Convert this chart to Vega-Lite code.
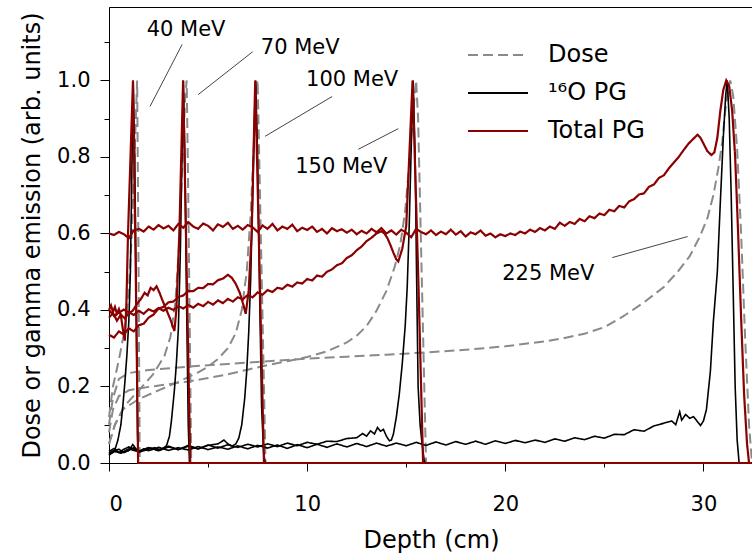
{
  "$schema": "https://vega.github.io/schema/vega-lite/v6.json",
  "width": 644,
  "height": 456,
  "autosize": {"type": "none"},
  "padding": {"left": 109, "top": 7, "right": 0, "bottom": 94},
  "background": "white",
  "config": {
    "view": {"stroke": "black", "strokeWidth": 1},
    "font": "DejaVu Sans",
    "axis": {
      "grid": false,
      "labelFont": "DejaVu Sans",
      "labelFontSize": 21,
      "labelColor": "black",
      "titleFont": "DejaVu Sans",
      "titleFontSize": 24,
      "titleFontWeight": "normal",
      "titleColor": "black",
      "domainColor": "black",
      "tickColor": "black",
      "domainWidth": 1,
      "tickWidth": 1
    },
    "legend": {
      "orient": "none",
      "legendX": 377,
      "legendY": 36,
      "symbolType": "M-6,0H6",
      "symbolSize": 100,
      "symbolStrokeWidth": 2,
      "labelFont": "DejaVu Sans",
      "labelFontSize": 24,
      "labelColor": "black",
      "labelOffset": 38,
      "rowPadding": 14,
      "title": null
    }
  },
  "datasets": {
    "dose": [
      {"e":"40","d":0,"v":0.12},{"e":"40","d":0.2,"v":0.2},{"e":"40","d":0.5,"v":0.27},{"e":"40","d":0.8,"v":0.35},{"e":"40","d":1.0,"v":0.45},{"e":"40","d":1.15,"v":0.6},{"e":"40","d":1.3,"v":0.82},{"e":"40","d":1.42,"v":1.0},{"e":"40","d":1.48,"v":0.6},{"e":"40","d":1.55,"v":0},
      {"e":"70","d":0,"v":0.05},{"e":"70","d":0.3,"v":0.1},{"e":"70","d":0.8,"v":0.15},{"e":"70","d":1.5,"v":0.19},{"e":"70","d":2.2,"v":0.23},{"e":"70","d":2.8,"v":0.28},{"e":"70","d":3.1,"v":0.33},{"e":"70","d":3.35,"v":0.42},{"e":"70","d":3.55,"v":0.58},{"e":"70","d":3.7,"v":0.78},{"e":"70","d":3.85,"v":0.96},{"e":"70","d":3.92,"v":1.0},{"e":"70","d":4.0,"v":0.7},{"e":"70","d":4.15,"v":0},
      {"e":"100","d":0,"v":0.05},{"e":"100","d":0.3,"v":0.1},{"e":"100","d":0.7,"v":0.14},{"e":"100","d":1.5,"v":0.167},{"e":"100","d":2.5,"v":0.19},{"e":"100","d":3.5,"v":0.212},{"e":"100","d":4.5,"v":0.237},{"e":"100","d":5,"v":0.252},{"e":"100","d":5.5,"v":0.272},{"e":"100","d":6,"v":0.3},{"e":"100","d":6.4,"v":0.34},{"e":"100","d":6.7,"v":0.4},{"e":"100","d":6.95,"v":0.5},{"e":"100","d":7.15,"v":0.65},{"e":"100","d":7.3,"v":0.82},{"e":"100","d":7.42,"v":0.96},{"e":"100","d":7.5,"v":1.0},{"e":"100","d":7.6,"v":0.75},{"e":"100","d":7.9,"v":0},
      {"e":"150","d":0,"v":0.08},{"e":"150","d":0.2,"v":0.14},{"e":"150","d":0.5,"v":0.175},{"e":"150","d":1,"v":0.19},{"e":"150","d":2,"v":0.199},{"e":"150","d":3,"v":0.206},{"e":"150","d":4,"v":0.213},{"e":"150","d":5,"v":0.222},{"e":"150","d":6,"v":0.232},{"e":"150","d":7,"v":0.244},{"e":"150","d":8,"v":0.256},{"e":"150","d":9,"v":0.266},{"e":"150","d":10,"v":0.277},{"e":"150","d":11,"v":0.292},{"e":"150","d":12,"v":0.315},{"e":"150","d":12.5,"v":0.333},{"e":"150","d":13,"v":0.358},{"e":"150","d":13.5,"v":0.398},{"e":"150","d":14,"v":0.45},{"e":"150","d":14.4,"v":0.51},{"e":"150","d":14.7,"v":0.57},{"e":"150","d":14.95,"v":0.66},{"e":"150","d":15.15,"v":0.78},{"e":"150","d":15.35,"v":0.92},{"e":"150","d":15.5,"v":1.0},{"e":"150","d":15.6,"v":0.9},{"e":"150","d":15.8,"v":0.45},{"e":"150","d":16.0,"v":0},
      {"e":"225","d":0,"v":0.1},{"e":"225","d":0.2,"v":0.17},{"e":"225","d":0.5,"v":0.22},{"e":"225","d":1,"v":0.235},{"e":"225","d":2,"v":0.243},{"e":"225","d":4,"v":0.252},{"e":"225","d":6,"v":0.259},{"e":"225","d":8,"v":0.266},{"e":"225","d":10,"v":0.273},{"e":"225","d":12,"v":0.278},{"e":"225","d":14,"v":0.283},{"e":"225","d":16,"v":0.289},{"e":"225","d":18,"v":0.296},{"e":"225","d":20,"v":0.305},{"e":"225","d":22,"v":0.318},{"e":"225","d":23,"v":0.327},{"e":"225","d":24,"v":0.338},{"e":"225","d":25,"v":0.355},{"e":"225","d":26,"v":0.385},{"e":"225","d":27,"v":0.42},{"e":"225","d":28,"v":0.46},{"e":"225","d":28.7,"v":0.5},{"e":"225","d":29.3,"v":0.54},{"e":"225","d":29.8,"v":0.59},{"e":"225","d":30.2,"v":0.64},{"e":"225","d":30.5,"v":0.7},{"e":"225","d":30.75,"v":0.77},{"e":"225","d":30.95,"v":0.84},{"e":"225","d":31.1,"v":0.92},{"e":"225","d":31.25,"v":0.98},{"e":"225","d":31.35,"v":1.0},{"e":"225","d":31.5,"v":0.96},{"e":"225","d":31.7,"v":0.82},{"e":"225","d":31.9,"v":0.6},{"e":"225","d":32.1,"v":0.33},{"e":"225","d":32.3,"v":0.1},{"e":"225","d":32.45,"v":0}
    ],
    "o16": [
      {"e":"40","d":0,"v":0.02},{"e":"40","d":0.15,"v":0.028},{"e":"40","d":0.3,"v":0.035},{"e":"40","d":0.45,"v":0.06},{"e":"40","d":0.6,"v":0.1},{"e":"40","d":0.7,"v":0.15},{"e":"40","d":0.8,"v":0.21},{"e":"40","d":0.9,"v":0.28},{"e":"40","d":1.0,"v":0.37},{"e":"40","d":1.08,"v":0.5},{"e":"40","d":1.15,"v":0.75},{"e":"40","d":1.22,"v":1.0},{"e":"40","d":1.3,"v":0.8},{"e":"40","d":1.38,"v":0.4},{"e":"40","d":1.44,"v":0.08},{"e":"40","d":1.48,"v":0},{"e":"40","d":32.5,"v":0},
      {"e":"70","d":0,"v":0.022},{"e":"70","d":0.3,"v":0.03},{"e":"70","d":0.6,"v":0.026},{"e":"70","d":1,"v":0.033},{"e":"70","d":1.2,"v":0.048},{"e":"70","d":1.5,"v":0.028},{"e":"70","d":2,"v":0.036},{"e":"70","d":2.3,"v":0.04},{"e":"70","d":2.6,"v":0.034},{"e":"70","d":2.9,"v":0.045},{"e":"70","d":3.05,"v":0.07},{"e":"70","d":3.15,"v":0.11},{"e":"70","d":3.3,"v":0.19},{"e":"70","d":3.4,"v":0.26},{"e":"70","d":3.5,"v":0.35},{"e":"70","d":3.6,"v":0.55},{"e":"70","d":3.7,"v":0.85},{"e":"70","d":3.75,"v":1.0},{"e":"70","d":3.83,"v":0.8},{"e":"70","d":3.92,"v":0.4},{"e":"70","d":4.0,"v":0.1},{"e":"70","d":4.06,"v":0},{"e":"70","d":32.5,"v":0},
      {"e":"100","d":0,"v":0.025},{"e":"100","d":0.3,"v":0.034},{"e":"100","d":0.6,"v":0.026},{"e":"100","d":1,"v":0.037},{"e":"100","d":1.5,"v":0.029},{"e":"100","d":2,"v":0.04},{"e":"100","d":2.5,"v":0.032},{"e":"100","d":3,"v":0.042},{"e":"100","d":3.5,"v":0.035},{"e":"100","d":4,"v":0.044},{"e":"100","d":4.5,"v":0.037},{"e":"100","d":5,"v":0.046},{"e":"100","d":5.5,"v":0.05},{"e":"100","d":5.8,"v":0.06},{"e":"100","d":6.0,"v":0.05},{"e":"100","d":6.2,"v":0.044},{"e":"100","d":6.4,"v":0.05},{"e":"100","d":6.55,"v":0.065},{"e":"100","d":6.7,"v":0.1},{"e":"100","d":6.85,"v":0.17},{"e":"100","d":6.95,"v":0.24},{"e":"100","d":7.05,"v":0.34},{"e":"100","d":7.15,"v":0.48},{"e":"100","d":7.25,"v":0.7},{"e":"100","d":7.35,"v":0.92},{"e":"100","d":7.4,"v":1.0},{"e":"100","d":7.5,"v":0.8},{"e":"100","d":7.6,"v":0.45},{"e":"100","d":7.7,"v":0.15},{"e":"100","d":7.8,"v":0.03},{"e":"100","d":7.88,"v":0},{"e":"100","d":32.5,"v":0},
      {"e":"150","d":0,"v":0.03},{"e":"150","d":0.25,"v":0.038},{"e":"150","d":0.5,"v":0.027},{"e":"150","d":0.75,"v":0.036},{"e":"150","d":1,"v":0.042},{"e":"150","d":1.5,"v":0.031},{"e":"150","d":2,"v":0.04},{"e":"150","d":2.5,"v":0.034},{"e":"150","d":3,"v":0.044},{"e":"150","d":3.5,"v":0.035},{"e":"150","d":4,"v":0.046},{"e":"150","d":4.5,"v":0.037},{"e":"150","d":5,"v":0.047},{"e":"150","d":5.5,"v":0.039},{"e":"150","d":6,"v":0.048},{"e":"150","d":6.5,"v":0.041},{"e":"150","d":7,"v":0.049},{"e":"150","d":7.5,"v":0.042},{"e":"150","d":8,"v":0.05},{"e":"150","d":8.5,"v":0.043},{"e":"150","d":9,"v":0.052},{"e":"150","d":9.5,"v":0.045},{"e":"150","d":10,"v":0.054},{"e":"150","d":10.5,"v":0.049},{"e":"150","d":11,"v":0.057},{"e":"150","d":11.5,"v":0.056},{"e":"150","d":12,"v":0.064},{"e":"150","d":12.5,"v":0.066},{"e":"150","d":12.8,"v":0.077},{"e":"150","d":13.0,"v":0.07},{"e":"150","d":13.2,"v":0.084},{"e":"150","d":13.4,"v":0.076},{"e":"150","d":13.55,"v":0.093},{"e":"150","d":13.7,"v":0.083},{"e":"150","d":13.85,"v":0.088},{"e":"150","d":14.0,"v":0.07},{"e":"150","d":14.15,"v":0.058},{"e":"150","d":14.25,"v":0.06},{"e":"150","d":14.35,"v":0.075},{"e":"150","d":14.5,"v":0.12},{"e":"150","d":14.65,"v":0.18},{"e":"150","d":14.8,"v":0.26},{"e":"150","d":14.95,"v":0.36},{"e":"150","d":15.05,"v":0.46},{"e":"150","d":15.15,"v":0.62},{"e":"150","d":15.25,"v":0.82},{"e":"150","d":15.35,"v":1.0},{"e":"150","d":15.45,"v":0.8},{"e":"150","d":15.52,"v":0.5},{"e":"150","d":15.6,"v":0.2},{"e":"150","d":15.7,"v":0.1},{"e":"150","d":15.8,"v":0.05},{"e":"150","d":15.9,"v":0.01},{"e":"150","d":15.95,"v":0},{"e":"150","d":32.5,"v":0},
      {"e":"225","d":0,"v":0.025},{"e":"225","d":0.25,"v":0.032},{"e":"225","d":0.5,"v":0.036},{"e":"225","d":0.75,"v":0.027},{"e":"225","d":1,"v":0.033},{"e":"225","d":1.25,"v":0.04},{"e":"225","d":1.5,"v":0.029},{"e":"225","d":1.75,"v":0.037},{"e":"225","d":2,"v":0.032},{"e":"225","d":2.5,"v":0.041},{"e":"225","d":3,"v":0.033},{"e":"225","d":3.5,"v":0.04},{"e":"225","d":4,"v":0.034},{"e":"225","d":4.5,"v":0.043},{"e":"225","d":5,"v":0.035},{"e":"225","d":5.5,"v":0.042},{"e":"225","d":6,"v":0.036},{"e":"225","d":6.5,"v":0.045},{"e":"225","d":7,"v":0.037},{"e":"225","d":7.5,"v":0.046},{"e":"225","d":8,"v":0.039},{"e":"225","d":8.5,"v":0.047},{"e":"225","d":9,"v":0.038},{"e":"225","d":9.5,"v":0.048},{"e":"225","d":10,"v":0.04},{"e":"225","d":10.5,"v":0.049},{"e":"225","d":11,"v":0.041},{"e":"225","d":11.5,"v":0.05},{"e":"225","d":12,"v":0.042},{"e":"225","d":12.5,"v":0.051},{"e":"225","d":13,"v":0.043},{"e":"225","d":13.5,"v":0.052},{"e":"225","d":14,"v":0.044},{"e":"225","d":14.5,"v":0.052},{"e":"225","d":15,"v":0.045},{"e":"225","d":15.5,"v":0.054},{"e":"225","d":16,"v":0.046},{"e":"225","d":16.5,"v":0.055},{"e":"225","d":17,"v":0.047},{"e":"225","d":17.5,"v":0.056},{"e":"225","d":18,"v":0.049},{"e":"225","d":18.5,"v":0.057},{"e":"225","d":19,"v":0.049},{"e":"225","d":19.5,"v":0.058},{"e":"225","d":20,"v":0.051},{"e":"225","d":20.5,"v":0.059},{"e":"225","d":21,"v":0.053},{"e":"225","d":21.5,"v":0.06},{"e":"225","d":22,"v":0.054},{"e":"225","d":22.5,"v":0.063},{"e":"225","d":23,"v":0.057},{"e":"225","d":23.5,"v":0.066},{"e":"225","d":24,"v":0.061},{"e":"225","d":24.5,"v":0.07},{"e":"225","d":25,"v":0.065},{"e":"225","d":25.5,"v":0.075},{"e":"225","d":26,"v":0.074},{"e":"225","d":26.5,"v":0.087},{"e":"225","d":27,"v":0.083},{"e":"225","d":27.5,"v":0.097},{"e":"225","d":28,"v":0.104},{"e":"225","d":28.4,"v":0.11},{"e":"225","d":28.6,"v":0.1},{"e":"225","d":28.8,"v":0.134},{"e":"225","d":28.9,"v":0.112},{"e":"225","d":29.1,"v":0.127},{"e":"225","d":29.3,"v":0.117},{"e":"225","d":29.5,"v":0.121},{"e":"225","d":29.7,"v":0.108},{"e":"225","d":29.85,"v":0.098},{"e":"225","d":30.0,"v":0.11},{"e":"225","d":30.15,"v":0.14},{"e":"225","d":30.35,"v":0.24},{"e":"225","d":30.5,"v":0.37},{"e":"225","d":30.7,"v":0.5},{"e":"225","d":30.85,"v":0.68},{"e":"225","d":31.0,"v":0.85},{"e":"225","d":31.12,"v":0.96},{"e":"225","d":31.2,"v":1.0},{"e":"225","d":31.3,"v":0.9},{"e":"225","d":31.4,"v":0.7},{"e":"225","d":31.5,"v":0.45},{"e":"225","d":31.6,"v":0.2},{"e":"225","d":31.7,"v":0.06},{"e":"225","d":31.8,"v":0},{"e":"225","d":32.5,"v":0}
    ],
    "total": [
      {"e":"40","d":0,"v":0.4},{"e":"40","d":0.1,"v":0.412},{"e":"40","d":0.2,"v":0.395},{"e":"40","d":0.3,"v":0.408},{"e":"40","d":0.4,"v":0.39},{"e":"40","d":0.5,"v":0.402},{"e":"40","d":0.6,"v":0.385},{"e":"40","d":0.7,"v":0.35},{"e":"40","d":0.8,"v":0.32},{"e":"40","d":0.88,"v":0.42},{"e":"40","d":0.96,"v":0.6},{"e":"40","d":1.21,"v":1.0},{"e":"40","d":1.35,"v":0.5},{"e":"40","d":1.47,"v":0},{"e":"40","d":32.5,"v":0},
      {"e":"70","d":0,"v":0.38},{"e":"70","d":0.2,"v":0.392},{"e":"70","d":0.4,"v":0.372},{"e":"70","d":0.6,"v":0.388},{"e":"70","d":0.8,"v":0.378},{"e":"70","d":1.0,"v":0.392},{"e":"70","d":1.2,"v":0.398},{"e":"70","d":1.4,"v":0.415},{"e":"70","d":1.6,"v":0.428},{"e":"70","d":1.8,"v":0.445},{"e":"70","d":1.95,"v":0.438},{"e":"70","d":2.1,"v":0.458},{"e":"70","d":2.25,"v":0.452},{"e":"70","d":2.4,"v":0.462},{"e":"70","d":2.55,"v":0.445},{"e":"70","d":2.7,"v":0.425},{"e":"70","d":2.9,"v":0.4},{"e":"70","d":3.1,"v":0.375},{"e":"70","d":3.3,"v":0.345},{"e":"70","d":3.4,"v":0.4},{"e":"70","d":3.55,"v":0.6},{"e":"70","d":3.74,"v":1.0},{"e":"70","d":3.92,"v":0.5},{"e":"70","d":4.1,"v":0},{"e":"70","d":32.5,"v":0},
      {"e":"100","d":0,"v":0.335},{"e":"100","d":0.25,"v":0.328},{"e":"100","d":0.5,"v":0.344},{"e":"100","d":0.75,"v":0.336},{"e":"100","d":1.0,"v":0.352},{"e":"100","d":1.25,"v":0.344},{"e":"100","d":1.5,"v":0.36},{"e":"100","d":1.75,"v":0.364},{"e":"100","d":2.0,"v":0.38},{"e":"100","d":2.25,"v":0.388},{"e":"100","d":2.5,"v":0.404},{"e":"100","d":2.75,"v":0.408},{"e":"100","d":3.0,"v":0.42},{"e":"100","d":3.25,"v":0.422},{"e":"100","d":3.5,"v":0.434},{"e":"100","d":3.75,"v":0.438},{"e":"100","d":4.0,"v":0.45},{"e":"100","d":4.25,"v":0.449},{"e":"100","d":4.5,"v":0.458},{"e":"100","d":4.75,"v":0.457},{"e":"100","d":5.0,"v":0.468},{"e":"100","d":5.25,"v":0.467},{"e":"100","d":5.5,"v":0.478},{"e":"100","d":5.75,"v":0.482},{"e":"100","d":6.0,"v":0.492},{"e":"100","d":6.2,"v":0.484},{"e":"100","d":6.4,"v":0.468},{"e":"100","d":6.6,"v":0.445},{"e":"100","d":6.8,"v":0.41},{"e":"100","d":6.9,"v":0.39},{"e":"100","d":7.05,"v":0.45},{"e":"100","d":7.2,"v":0.6},{"e":"100","d":7.38,"v":1.0},{"e":"100","d":7.6,"v":0.5},{"e":"100","d":7.82,"v":0},{"e":"100","d":32.5,"v":0},
      {"e":"150","d":0,"v":0.4},{"e":"150","d":0.25,"v":0.385},{"e":"150","d":0.5,"v":0.393},{"e":"150","d":0.75,"v":0.401},{"e":"150","d":1.0,"v":0.394},{"e":"150","d":1.25,"v":0.387},{"e":"150","d":1.5,"v":0.398},{"e":"150","d":1.75,"v":0.39},{"e":"150","d":2.0,"v":0.402},{"e":"150","d":2.25,"v":0.396},{"e":"150","d":2.5,"v":0.405},{"e":"150","d":2.75,"v":0.398},{"e":"150","d":3.0,"v":0.406},{"e":"150","d":3.25,"v":0.4},{"e":"150","d":3.5,"v":0.41},{"e":"150","d":3.75,"v":0.404},{"e":"150","d":4.0,"v":0.413},{"e":"150","d":4.25,"v":0.406},{"e":"150","d":4.5,"v":0.416},{"e":"150","d":4.75,"v":0.41},{"e":"150","d":5.0,"v":0.421},{"e":"150","d":5.25,"v":0.414},{"e":"150","d":5.5,"v":0.425},{"e":"150","d":5.75,"v":0.418},{"e":"150","d":6.0,"v":0.429},{"e":"150","d":6.25,"v":0.422},{"e":"150","d":6.5,"v":0.433},{"e":"150","d":6.75,"v":0.428},{"e":"150","d":7.0,"v":0.439},{"e":"150","d":7.25,"v":0.433},{"e":"150","d":7.5,"v":0.446},{"e":"150","d":7.75,"v":0.44},{"e":"150","d":8.0,"v":0.452},{"e":"150","d":8.25,"v":0.447},{"e":"150","d":8.5,"v":0.458},{"e":"150","d":8.75,"v":0.455},{"e":"150","d":9.0,"v":0.466},{"e":"150","d":9.25,"v":0.461},{"e":"150","d":9.5,"v":0.472},{"e":"150","d":9.75,"v":0.469},{"e":"150","d":10.0,"v":0.481},{"e":"150","d":10.25,"v":0.477},{"e":"150","d":10.5,"v":0.49},{"e":"150","d":10.75,"v":0.487},{"e":"150","d":11.0,"v":0.5},{"e":"150","d":11.25,"v":0.506},{"e":"150","d":11.5,"v":0.517},{"e":"150","d":11.75,"v":0.522},{"e":"150","d":12.0,"v":0.536},{"e":"150","d":12.25,"v":0.543},{"e":"150","d":12.5,"v":0.556},{"e":"150","d":12.75,"v":0.566},{"e":"150","d":13.0,"v":0.58},{"e":"150","d":13.25,"v":0.589},{"e":"150","d":13.5,"v":0.6},{"e":"150","d":13.75,"v":0.606},{"e":"150","d":13.9,"v":0.6},{"e":"150","d":14.05,"v":0.588},{"e":"150","d":14.2,"v":0.57},{"e":"150","d":14.35,"v":0.55},{"e":"150","d":14.5,"v":0.532},{"e":"150","d":14.6,"v":0.527},{"e":"150","d":14.8,"v":0.56},{"e":"150","d":15.0,"v":0.62},{"e":"150","d":15.32,"v":1.0},{"e":"150","d":15.6,"v":0.5},{"e":"150","d":15.85,"v":0},{"e":"150","d":32.5,"v":0},
      {"e":"225","d":0,"v":0.6},{"e":"225","d":0.25,"v":0.596},{"e":"225","d":0.5,"v":0.604},{"e":"225","d":0.75,"v":0.598},{"e":"225","d":1.0,"v":0.588},{"e":"225","d":1.25,"v":0.608},{"e":"225","d":1.5,"v":0.612},{"e":"225","d":1.75,"v":0.605},{"e":"225","d":2.0,"v":0.618},{"e":"225","d":2.25,"v":0.61},{"e":"225","d":2.5,"v":0.622},{"e":"225","d":2.75,"v":0.613},{"e":"225","d":3.0,"v":0.62},{"e":"225","d":3.25,"v":0.608},{"e":"225","d":3.5,"v":0.625},{"e":"225","d":3.75,"v":0.615},{"e":"225","d":4.0,"v":0.63},{"e":"225","d":4.25,"v":0.618},{"e":"225","d":4.5,"v":0.612},{"e":"225","d":4.75,"v":0.626},{"e":"225","d":5.0,"v":0.62},{"e":"225","d":5.25,"v":0.608},{"e":"225","d":5.5,"v":0.624},{"e":"225","d":5.75,"v":0.617},{"e":"225","d":6.0,"v":0.628},{"e":"225","d":6.25,"v":0.612},{"e":"225","d":6.5,"v":0.62},{"e":"225","d":6.75,"v":0.61},{"e":"225","d":7.0,"v":0.622},{"e":"225","d":7.25,"v":0.616},{"e":"225","d":7.5,"v":0.604},{"e":"225","d":7.75,"v":0.621},{"e":"225","d":8.0,"v":0.612},{"e":"225","d":8.25,"v":0.625},{"e":"225","d":8.5,"v":0.608},{"e":"225","d":8.75,"v":0.618},{"e":"225","d":9.0,"v":0.612},{"e":"225","d":9.25,"v":0.623},{"e":"225","d":9.5,"v":0.606},{"e":"225","d":9.75,"v":0.615},{"e":"225","d":10.0,"v":0.609},{"e":"225","d":10.25,"v":0.618},{"e":"225","d":10.5,"v":0.604},{"e":"225","d":10.75,"v":0.612},{"e":"225","d":11.0,"v":0.6},{"e":"225","d":11.25,"v":0.614},{"e":"225","d":11.5,"v":0.606},{"e":"225","d":11.75,"v":0.611},{"e":"225","d":12.0,"v":0.602},{"e":"225","d":12.25,"v":0.61},{"e":"225","d":12.5,"v":0.598},{"e":"225","d":12.75,"v":0.607},{"e":"225","d":13.0,"v":0.6},{"e":"225","d":13.25,"v":0.612},{"e":"225","d":13.5,"v":0.603},{"e":"225","d":13.75,"v":0.614},{"e":"225","d":14.0,"v":0.6},{"e":"225","d":14.25,"v":0.608},{"e":"225","d":14.5,"v":0.597},{"e":"225","d":14.75,"v":0.61},{"e":"225","d":15.0,"v":0.602},{"e":"225","d":15.25,"v":0.59},{"e":"225","d":15.5,"v":0.612},{"e":"225","d":15.75,"v":0.604},{"e":"225","d":16.0,"v":0.598},{"e":"225","d":16.25,"v":0.608},{"e":"225","d":16.5,"v":0.596},{"e":"225","d":16.75,"v":0.605},{"e":"225","d":17.0,"v":0.598},{"e":"225","d":17.25,"v":0.61},{"e":"225","d":17.5,"v":0.597},{"e":"225","d":17.75,"v":0.606},{"e":"225","d":18.0,"v":0.592},{"e":"225","d":18.25,"v":0.603},{"e":"225","d":18.5,"v":0.598},{"e":"225","d":18.75,"v":0.608},{"e":"225","d":19.0,"v":0.594},{"e":"225","d":19.25,"v":0.6},{"e":"225","d":19.5,"v":0.59},{"e":"225","d":19.75,"v":0.598},{"e":"225","d":20.0,"v":0.593},{"e":"225","d":20.25,"v":0.6},{"e":"225","d":20.5,"v":0.596},{"e":"225","d":20.75,"v":0.605},{"e":"225","d":21.0,"v":0.6},{"e":"225","d":21.25,"v":0.61},{"e":"225","d":21.5,"v":0.604},{"e":"225","d":21.75,"v":0.614},{"e":"225","d":22.0,"v":0.608},{"e":"225","d":22.25,"v":0.618},{"e":"225","d":22.5,"v":0.612},{"e":"225","d":22.75,"v":0.628},{"e":"225","d":23.0,"v":0.62},{"e":"225","d":23.25,"v":0.63},{"e":"225","d":23.5,"v":0.625},{"e":"225","d":23.75,"v":0.638},{"e":"225","d":24.0,"v":0.632},{"e":"225","d":24.25,"v":0.645},{"e":"225","d":24.5,"v":0.64},{"e":"225","d":24.75,"v":0.652},{"e":"225","d":25.0,"v":0.648},{"e":"225","d":25.25,"v":0.662},{"e":"225","d":25.5,"v":0.658},{"e":"225","d":25.75,"v":0.672},{"e":"225","d":26.0,"v":0.668},{"e":"225","d":26.25,"v":0.684},{"e":"225","d":26.5,"v":0.69},{"e":"225","d":26.75,"v":0.702},{"e":"225","d":27.0,"v":0.705},{"e":"225","d":27.25,"v":0.722},{"e":"225","d":27.5,"v":0.728},{"e":"225","d":27.75,"v":0.745},{"e":"225","d":28.0,"v":0.752},{"e":"225","d":28.25,"v":0.77},{"e":"225","d":28.5,"v":0.785},{"e":"225","d":28.75,"v":0.8},{"e":"225","d":29.0,"v":0.818},{"e":"225","d":29.25,"v":0.835},{"e":"225","d":29.5,"v":0.848},{"e":"225","d":29.7,"v":0.858},{"e":"225","d":29.85,"v":0.85},{"e":"225","d":30.0,"v":0.835},{"e":"225","d":30.2,"v":0.815},{"e":"225","d":30.4,"v":0.805},{"e":"225","d":30.55,"v":0.812},{"e":"225","d":30.7,"v":0.85},{"e":"225","d":30.85,"v":0.92},{"e":"225","d":31.0,"v":0.975},{"e":"225","d":31.15,"v":1.0},{"e":"225","d":31.3,"v":0.985},{"e":"225","d":31.45,"v":0.92},{"e":"225","d":31.6,"v":0.8},{"e":"225","d":31.75,"v":0.6},{"e":"225","d":31.9,"v":0.38},{"e":"225","d":32.05,"v":0.18},{"e":"225","d":32.2,"v":0.05},{"e":"225","d":32.3,"v":0},{"e":"225","d":32.5,"v":0}
    ],
    "ann": [
      {"t":"40 MeV","x":3.89,"y":1.132},
      {"t":"70 MeV","x":9.65,"y":1.084},
      {"t":"100 MeV","x":12.27,"y":1.0},
      {"t":"150 MeV","x":11.72,"y":0.775},
      {"t":"225 MeV","x":22.17,"y":0.494}
    ],
    "lead": [
      {"x":3.69,"y":1.094,"x2":2.07,"y2":0.932},
      {"x":7.25,"y":1.075,"x2":4.5,"y2":0.963},
      {"x":11.26,"y":0.958,"x2":7.88,"y2":0.854},
      {"x":12.58,"y":0.82,"x2":14.6,"y2":0.874},
      {"x":25.4,"y":0.537,"x2":29.2,"y2":0.592}
    ]
  },
  "resolve": {"axis": {"x": "independent", "y": "independent"}},
  "layer": [
    {
      "data": {"name": "dose"},
      "mark": {"type": "line", "strokeWidth": 2},
      "encoding": {
        "x": {"field": "d", "type": "quantitative", "scale": {"domain": [0, 32.5], "nice": false, "zero": false},
              "axis": {"orient": "bottom", "values": [5, 15, 25], "tickSize": 4, "labels": false, "domain": false, "title": null}},
        "y": {"field": "v", "type": "quantitative", "scale": {"domain": [0, 1.192], "nice": false},
              "axis": {"orient": "left", "values": [0.1, 0.3, 0.5, 0.7, 0.9, 1.1], "tickSize": 5, "labels": false, "domain": false, "title": null}},
        "detail": {"field": "e"},
        "color": {"datum": "Dose", "type": "nominal",
                  "scale": {"domain": ["Dose", "¹⁶O PG", "Total PG"], "range": ["#8a8a8a", "#000000", "#8b0000"]}},
        "strokeDash": {"datum": "Dose", "type": "nominal",
                  "scale": {"domain": ["Dose", "¹⁶O PG", "Total PG"], "range": [[10, 5], [1, 0], [1, 0]]}}
      }
    },
    {
      "data": {"name": "o16"},
      "mark": {"type": "line", "strokeWidth": 1.6},
      "encoding": {
        "x": {"field": "d", "type": "quantitative",
              "axis": {"orient": "bottom", "values": [0, 10, 20, 30], "format": "d", "tickSize": 8, "labelPadding": 22, "title": "Depth (cm)", "titlePadding": 14}},
        "y": {"field": "v", "type": "quantitative",
              "axis": {"orient": "left", "values": [0, 0.2, 0.4, 0.6, 0.8, 1.0], "format": ".1f", "tickSize": 9, "labelPadding": 10, "title": "Dose or gamma emission (arb. units)", "titlePadding": 12}},
        "detail": {"field": "e"},
        "color": {"datum": "¹⁶O PG", "type": "nominal"},
        "strokeDash": {"datum": "¹⁶O PG", "type": "nominal"}
      }
    },
    {
      "data": {"name": "total"},
      "mark": {"type": "line", "strokeWidth": 2.2},
      "encoding": {
        "x": {"field": "d", "type": "quantitative", "axis": null},
        "y": {"field": "v", "type": "quantitative", "axis": null},
        "detail": {"field": "e"},
        "color": {"datum": "Total PG", "type": "nominal"},
        "strokeDash": {"datum": "Total PG", "type": "nominal"}
      }
    },
    {
      "data": {"name": "lead"},
      "mark": {"type": "rule", "color": "#444444", "strokeWidth": 1},
      "encoding": {
        "x": {"field": "x", "type": "quantitative", "axis": null},
        "y": {"field": "y", "type": "quantitative", "axis": null},
        "x2": {"field": "x2"},
        "y2": {"field": "y2"}
      }
    },
    {
      "data": {"name": "ann"},
      "mark": {"type": "text", "font": "DejaVu Sans", "fontSize": 21, "fontWeight": "normal", "color": "black", "align": "center", "baseline": "middle"},
      "encoding": {
        "x": {"field": "x", "type": "quantitative", "axis": null},
        "y": {"field": "y", "type": "quantitative", "axis": null},
        "text": {"field": "t"}
      }
    }
  ]
}
